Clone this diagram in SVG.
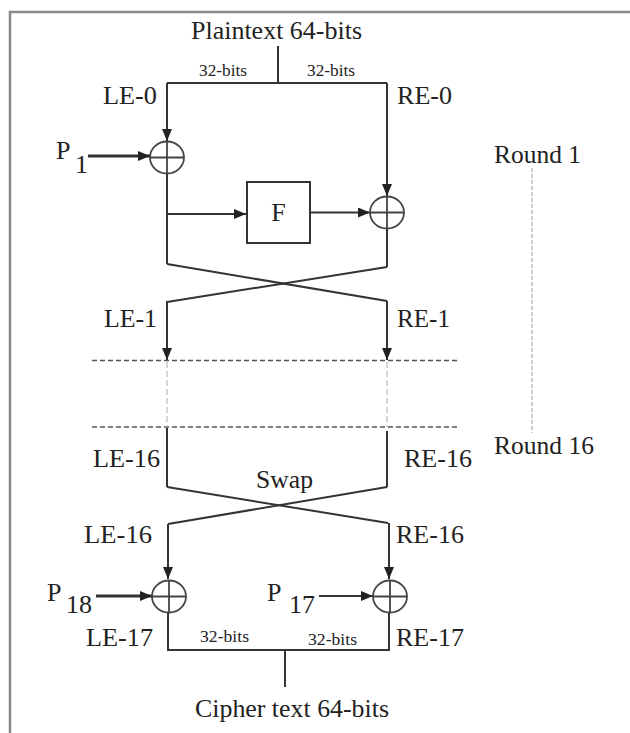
<svg xmlns="http://www.w3.org/2000/svg" width="630" height="733" viewBox="0 0 630 733">
<style>
  .t { font-family: "Liberation Serif", "Times New Roman", serif; font-size: 26px; fill: #222; }
  .s { font-family: "Liberation Serif", "Times New Roman", serif; font-size: 17px; fill: #222; }
  .ln { stroke: #333; stroke-width: 2; fill: none; }
  .thick { stroke: #333; stroke-width: 3; fill: none; }
  .xor { stroke: #444; stroke-width: 1.8; fill: none; }
  .dash { stroke: #555; stroke-width: 1.5; stroke-dasharray: 5 3; fill: none; }
  .ldash { stroke: #bbb; stroke-width: 1.2; stroke-dasharray: 6 3; fill: none; }
  .rdash { stroke: #999; stroke-width: 1; stroke-dasharray: 4 2; fill: none; }
</style>
<defs>
  <marker id="ah" viewBox="0 0 12 10" refX="12" refY="5" markerWidth="12" markerHeight="10" markerUnits="userSpaceOnUse" orient="auto">
    <path d="M0,0 L12,5 L0,10 z" fill="#222"/>
  </marker>
</defs>
<rect width="630" height="733" fill="#fff"/>
<path d="M10,733 V12 H630" stroke="#888" stroke-width="2.5" fill="none"/>

<g id="connectors">
  <path class="ln" d="M278,46 V83"/>
  <path class="ln" d="M167,83 H387"/>
  <path class="ln" d="M167,83 V141" marker-end="url(#ah)"/>
  <path class="ln" d="M387,83 V196" marker-end="url(#ah)"/>
  <path class="thick" d="M88,156 H150" marker-end="url(#ah)"/>
  <path class="ln" d="M167,174 V264"/>
  <path class="ln" d="M167,214 H246" marker-end="url(#ah)"/>
  <path class="ln" d="M310,212.5 H370" marker-end="url(#ah)"/>
  <path class="ln" d="M387,229 V267"/>
  <path class="ln" d="M167,264 L387,301"/>
  <path class="ln" d="M387,267 L167,302"/>
  <path class="ln" d="M167,301 V360" marker-end="url(#ah)"/>
  <path class="ln" d="M387,301 V360" marker-end="url(#ah)"/>
  <path class="dash" d="M92,360.5 H458"/>
  <path class="dash" d="M92,427 H458"/>
  <path class="ldash" d="M167,362 V427"/>
  <path class="ldash" d="M387,362 V427"/>
  <path class="rdash" d="M532,168 V433"/>
  <path class="ln" d="M167,428 V487"/>
  <path class="ln" d="M387,431 V487"/>
  <path class="ln" d="M167,487 L388,523"/>
  <path class="ln" d="M387,487 L168,524"/>
  <path class="ln" d="M168,524 V579" marker-end="url(#ah)"/>
  <path class="ln" d="M389,523 V579" marker-end="url(#ah)"/>
  <path class="thick" d="M96,596 H152" marker-end="url(#ah)"/>
  <path class="ln" d="M319,596 H373" marker-end="url(#ah)"/>
  <path class="ln" d="M168,613 V650 H389 V613"/>
  <path class="ln" d="M285,650 V687"/>
</g>

<g id="xor-left-1">
  <ellipse class="xor" cx="167" cy="157.5" rx="17" ry="16"/>
  <path class="xor" d="M150,157.5 H184 M167,141.5 V173.5"/>
</g>
<g id="box-F">
  <rect x="247" y="182" width="63" height="61" fill="#fff" stroke="#333" stroke-width="2"/>
  <text class="t" x="278.5" y="221" text-anchor="middle">F</text>
</g>
<g id="xor-right-1">
  <ellipse class="xor" cx="387" cy="212.5" rx="17" ry="16"/>
  <path class="xor" d="M370,212.5 H404 M387,196.5 V228.5"/>
</g>
<g id="xor-left-17">
  <ellipse class="xor" cx="169" cy="596.5" rx="17" ry="16"/>
  <path class="xor" d="M152,596.5 H186 M169,580.5 V612.5"/>
</g>
<g id="xor-right-17">
  <ellipse class="xor" cx="390" cy="596.5" rx="17" ry="16"/>
  <path class="xor" d="M373,596.5 H407 M390,580.5 V612.5"/>
</g>

<g id="labels">
  <text class="t" x="191" y="39" textLength="171" lengthAdjust="spacingAndGlyphs">Plaintext 64-bits</text>
  <text class="s" x="199" y="76" textLength="48" lengthAdjust="spacingAndGlyphs">32-bits</text>
  <text class="s" x="307" y="76" textLength="48" lengthAdjust="spacingAndGlyphs">32-bits</text>
  <text class="t" x="103" y="104" textLength="54" lengthAdjust="spacingAndGlyphs">LE-0</text>
  <text class="t" x="397" y="104" textLength="55" lengthAdjust="spacingAndGlyphs">RE-0</text>
  <text class="t"><tspan x="56" y="159">P</tspan><tspan x="75" y="173">1</tspan></text>
  <text class="t" x="494" y="163" textLength="87" lengthAdjust="spacingAndGlyphs">Round 1</text>
  <text class="t" x="104" y="327" textLength="53" lengthAdjust="spacingAndGlyphs">LE-1</text>
  <text class="t" x="397" y="327" textLength="53" lengthAdjust="spacingAndGlyphs">RE-1</text>
  <text class="t" x="494" y="454" textLength="100" lengthAdjust="spacingAndGlyphs">Round 16</text>
  <text class="t" x="93" y="467" textLength="67" lengthAdjust="spacingAndGlyphs">LE-16</text>
  <text class="t" x="404" y="467" textLength="68" lengthAdjust="spacingAndGlyphs">RE-16</text>
  <text class="t" x="256" y="488" textLength="57" lengthAdjust="spacingAndGlyphs">Swap</text>
  <text class="t" x="84" y="543" textLength="68" lengthAdjust="spacingAndGlyphs">LE-16</text>
  <text class="t" x="396" y="543" textLength="68" lengthAdjust="spacingAndGlyphs">RE-16</text>
  <text class="t"><tspan x="47" y="601">P</tspan><tspan x="66" y="613">18</tspan></text>
  <text class="t"><tspan x="267" y="601">P</tspan><tspan x="289" y="613">17</tspan></text>
  <text class="t" x="86" y="646" textLength="67" lengthAdjust="spacingAndGlyphs">LE-17</text>
  <text class="t" x="396" y="646" textLength="68" lengthAdjust="spacingAndGlyphs">RE-17</text>
  <text class="s" x="200" y="642" textLength="49" lengthAdjust="spacingAndGlyphs">32-bits</text>
  <text class="s" x="308" y="645" textLength="49" lengthAdjust="spacingAndGlyphs">32-bits</text>
  <text class="t" x="195" y="717" textLength="194" lengthAdjust="spacingAndGlyphs">Cipher text 64-bits</text>
</g>
</svg>
